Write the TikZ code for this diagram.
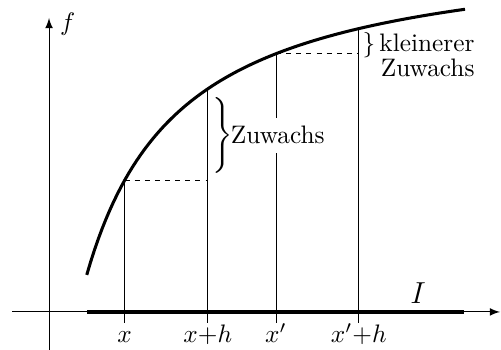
\documentclass[tikz,border=0pt]{standalone}
\usepackage{amsmath}
\usetikzlibrary{arrows}

\begin{document}
\begin{tikzpicture}[
        declare function={g(\t)=5.134-6.116/(\t+0.8);},
        axis/.style={-latex},
        incr/.style={dash pattern=on 2pt off 2pt},
        lbl/.style={anchor=base, inner sep=0pt}
    ]
        \useasboundingbox (-0.681,-0.528) rectangle (6.278,4.333);

        % Draw axes
        \coordinate (xl) at (-0.514,0);
        \coordinate (xr) at (6.264,0);
        \coordinate (yb) at (0,-0.528);
        \coordinate (yt) at (0,4.083);
        \draw[axis] (xl) -- (xr);
        \draw[axis] (yb) -- (yt);
        \node (f) at (0.26,4.0) {$f$};

        % Interval
        \coordinate (Ia) at (0.532,0);
        \coordinate (Ib) at (5.764,0);
        \draw[line width=1.6pt] (Ia) -- (Ib);
        \node[font=\large] (I) at (5.125,0.257) {$I$};

        % Draw graph
        \draw[line width=1.2pt] plot[domain=0.524:5.778, samples=100] (\x,{g(\x)});

        % Points on the graph
        \coordinate (P1) at (1.049,{g(1.049)});
        \coordinate (P2) at (2.206,{g(2.206)});
        \coordinate (P3) at (3.153,{g(3.153)});
        \coordinate (P4) at (4.303,{g(4.303)});

        % Draw vertical lines
        \coordinate (t1) at (1.049,-0.153);
        \coordinate (t2) at (2.206,-0.153);
        \coordinate (t3) at (3.153,-0.153);
        \coordinate (t4) at (4.303,-0.153);
        \draw (t1) -- (P1);
        \draw (t2) -- (P2);
        \draw (t3) -- (P3);
        \draw (t4) -- (P4);

        % Labels
        \node[lbl] (l1) at (1.049,-0.431) {$x$};
        \node[lbl] (l2) at (2.206,-0.431) {$x{+}h$};
        \node[lbl] (l3) at (3.153,-0.431) {$x'$};
        \node[lbl] (l4) at (4.303,-0.431) {$x'{+}h$};

        % Increments
        \draw[incr] (P1) -- (P1 -| P2);
        \draw[incr] (P3) -- (P3 -| P4);
        \node[fill=white, inner xsep=1pt, anchor=base west] (zw) at (2.485,2.333) {Zuwachs};
        \node[inner sep=0pt] (br) at (2.41,2.458) {$\Bigg\}$};
        \node[lbl, anchor=base east] (kl) at (5.917,3.615) {$\}$\,kleinerer};
        \node[lbl, anchor=base east] (zw2) at (5.917,3.268) {Zuwachs};
    \end{tikzpicture}
\end{document}
